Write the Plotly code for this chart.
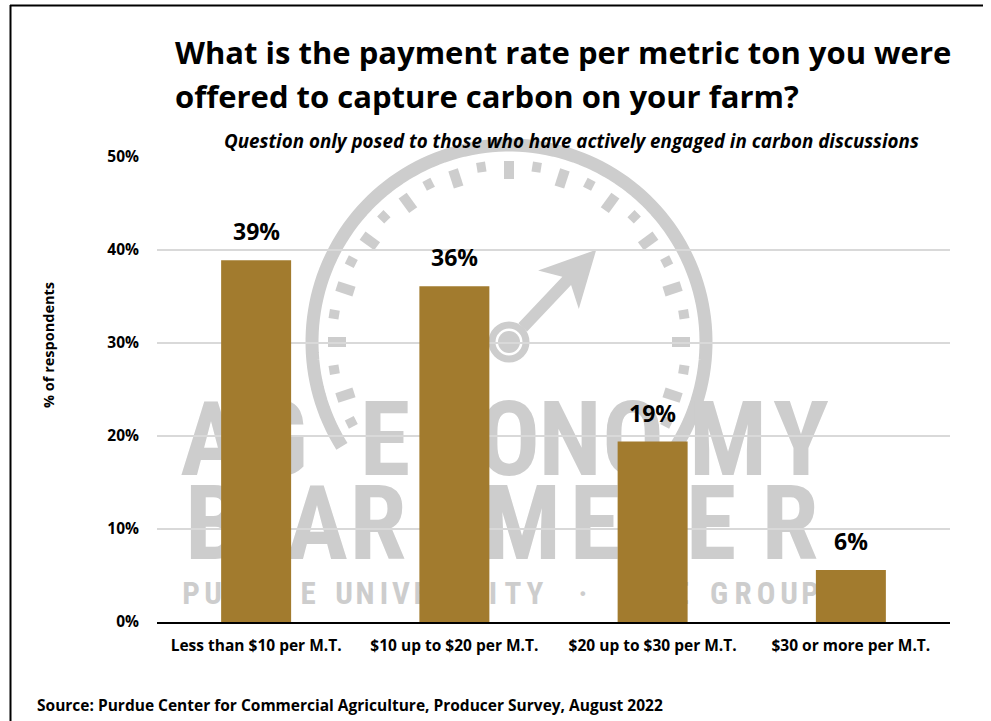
import numpy as np
import plotly.graph_objects as go

# ---------------- data ----------------
categories = ["Less than $10 per M.T.", "$10 up to $20 per M.T.",
              "$20 up to $30 per M.T.", "$30 or more per M.T."]
values = [38.9, 36.1, 19.4, 5.6]
y_ticks = [0, 10, 20, 30, 40, 50]
y_tick_labels = [f"{t}%" for t in y_ticks]

title_line1 = "What is the payment rate per metric ton you were"
title_line2 = "offered to capture carbon on your farm?"
subtitle = "Question only posed to those who have actively engaged in carbon discussions"
y_title = "% of respondents"
source = "Source: Purdue Center for Commercial Agriculture, Producer Survey, August 2022"

# watermark wording (decoration)
wm_line1 = "AGECONOMY"
wm_line2 = "BAROMETER"
wm_line3 = "PURDUEUNIVERSITY·CMEGROUP"

BAR_COLOR = "#A27B2E"
WM = "#CDCDCD"
FONT = "'Open Sans', sans-serif"
WM_FONT = "'Roboto Condensed', 'DejaVu Sans Condensed', Roboto, sans-serif"

W, H = 991, 721
PL, PR, PT, PB = 157, 950, 157, 622


def px(x):
    return (x - PL) / (PR - PL)


def py(y):
    return (PB - y) / (PB - PT)


fig = go.Figure()
fig.add_trace(go.Bar(
    x=categories, y=values, marker=dict(color=BAR_COLOR, line=dict(width=0)),
    hoverinfo="skip", showlegend=False,
))

shapes = []
# ---- watermark gauge ----
cx, cy = 509, 342
ang = np.radians(np.linspace(-32, 212, 120))
r = 197
pts = [(px(cx + r * np.cos(a)), py(cy - r * np.sin(a))) for a in ang]
path = "M " + " L ".join(f"{x:.5f},{y:.5f}" for x, y in pts)
shapes.append(dict(type="path", xref="paper", yref="paper", path=path,
                   line=dict(color=WM, width=13), layer="below"))
for k in range(-3, 24):
    a_deg = k * 9
    if a_deg < -30 or a_deg > 210:
        continue
    a = np.radians(a_deg)
    big = (k % 2 == 0)
    r0, r1 = (163, 181) if big else (172, 182)
    shapes.append(dict(type="line", xref="paper", yref="paper",
                       x0=px(cx + r0 * np.cos(a)), y0=py(cy - r0 * np.sin(a)),
                       x1=px(cx + r1 * np.cos(a)), y1=py(cy - r1 * np.sin(a)),
                       line=dict(color=WM, width=10 if big else 9), layer="below"))
# needle ring and hub
rr = 17
shapes.append(dict(type="circle", xref="paper", yref="paper",
                   x0=px(cx - rr), x1=px(cx + rr), y0=py(cy + rr), y1=py(cy - rr),
                   line=dict(color=WM, width=7), fillcolor="rgba(0,0,0,0)", layer="below"))
rh = 11
shapes.append(dict(type="circle", xref="paper", yref="paper",
                   x0=px(cx - rh), x1=px(cx + rh), y0=py(cy + rh), y1=py(cy - rh),
                   line=dict(width=0), fillcolor=WM, layer="below"))
# needle
na = np.radians(46.6)
ux, uy = np.cos(na), -np.sin(na)
vx, vy = -uy, ux
s0, s1, sc, tip = 20, 84, 72, 127
hw, aw = 6, 28
poly = [
    (cx + s0 * ux + hw * vx, cy + s0 * uy + hw * vy),
    (cx + s1 * ux + hw * vx, cy + s1 * uy + hw * vy),
    (cx + sc * ux + aw * vx, cy + sc * uy + aw * vy),
    (cx + tip * ux, cy + tip * uy),
    (cx + sc * ux - aw * vx, cy + sc * uy - aw * vy),
    (cx + s1 * ux - hw * vx, cy + s1 * uy - hw * vy),
    (cx + s0 * ux - hw * vx, cy + s0 * uy - hw * vy),
]
npath = "M " + " L ".join(f"{px(x):.5f},{py(y):.5f}" for x, y in poly) + " Z"
shapes.append(dict(type="path", xref="paper", yref="paper", path=npath,
                   line=dict(width=0), fillcolor=WM, layer="below"))


# watermark letters, placed one by one
def wm_letters(letters, centers, yc, size, half_h):
    out = []
    for ch, xc in zip(letters, centers):
        out.append(dict(type="rect", xref="paper", yref="paper",
                        x0=px(xc - 45), x1=px(xc + 45), y0=py(yc + half_h), y1=py(yc - half_h),
                        line=dict(width=0), fillcolor="rgba(0,0,0,0)", layer="below",
                        label=dict(text=f"<b>{ch}</b>", textposition="middle center",
                                   font=dict(family=WM_FONT, size=size, color=WM))))
    return out


shapes += wm_letters(wm_line1, [211, 278, 385, 449, 509, 570, 633, 728, 801], 432, 103, 50)
shapes += wm_letters(wm_line2, [214, 317, 378, 449, 522, 595, 654, 711, 790], 516, 103, 50)
shapes += wm_letters(wm_line3, [191, 213, 236, 259, 283, 308,
                                344, 365, 384, 401, 421, 441, 462, 493, 513, 535,
                                583,
                                632, 657, 681,
                                719, 743, 766, 789, 810], 591, 31, 20)

# frame
shapes.append(dict(type="line", xref="paper", yref="paper",
                   x0=px(10.5), x1=px(10.5), y0=py(5), y1=py(721),
                   line=dict(color="black", width=2), layer="above"))
shapes.append(dict(type="line", xref="paper", yref="paper",
                   x0=px(10), x1=px(983), y0=py(5.5), y1=py(5.5),
                   line=dict(color="black", width=2), layer="above"))

annotations = [
    dict(text=f"<b>{title_line1}</b>", xref="paper", yref="paper", x=px(173), y=py(52),
         xanchor="left", yanchor="middle", showarrow=False,
         font=dict(family=FONT, size=31, color="black")),
    dict(text=f"<b>{title_line2}</b>", xref="paper", yref="paper", x=px(173), y=py(96),
         xanchor="left", yanchor="middle", showarrow=False,
         font=dict(family=FONT, size=31, color="black")),
    dict(text=f"<b><i>{subtitle}</i></b>", xref="paper", yref="paper", x=px(571), y=py(141),
         xanchor="center", yanchor="middle", showarrow=False,
         font=dict(family=FONT, size=18.8, color="black")),
    dict(text=f"<b>{y_title}</b>", xref="paper", yref="paper", x=px(48), y=py(345),
         xanchor="center", yanchor="middle", showarrow=False, textangle=-90,
         font=dict(family=FONT, size=14.5, color="black")),
    dict(text=f"<b>{source}</b>", xref="paper", yref="paper", x=px(35), y=py(705),
         xanchor="left", yanchor="middle", showarrow=False,
         font=dict(family=FONT, size=15.5, color="black")),
]
for c, v in zip(categories, values):
    annotations.append(dict(text=f"<b>{v:.0f}%</b>", x=c, y=v, xref="x", yref="y",
                            xanchor="center", yanchor="bottom", yshift=11, showarrow=False,
                            font=dict(family=FONT, size=23, color="black")))

fig.update_layout(
    width=W, height=H,
    margin=dict(l=PL, r=W - PR, t=PT, b=H - PB, pad=0),
    paper_bgcolor="white", plot_bgcolor="rgba(0,0,0,0)",
    bargap=0.647,
    shapes=shapes, annotations=annotations,
    font=dict(family=FONT, color="black"),
    xaxis=dict(showgrid=False, showline=True, linecolor="black", linewidth=2,
               ticks="", tickfont=dict(family=FONT, size=15.5, color="black"),
               ticklabelstandoff=8, fixedrange=True),
    yaxis=dict(range=[0, 50], tickvals=y_ticks, ticktext=[f"<b>{t}</b>" for t in y_tick_labels],
               showgrid=True, gridcolor="#D9D9D9", gridwidth=1.5, zeroline=False,
               showline=False, ticks="", ticklabelstandoff=17,
               tickfont=dict(family=FONT, size=15.5, color="black"), fixedrange=True),
)
fig.update_xaxes(ticktext=[f"<b>{c}</b>" for c in categories], tickvals=categories)

fig.write_html("out.html")
